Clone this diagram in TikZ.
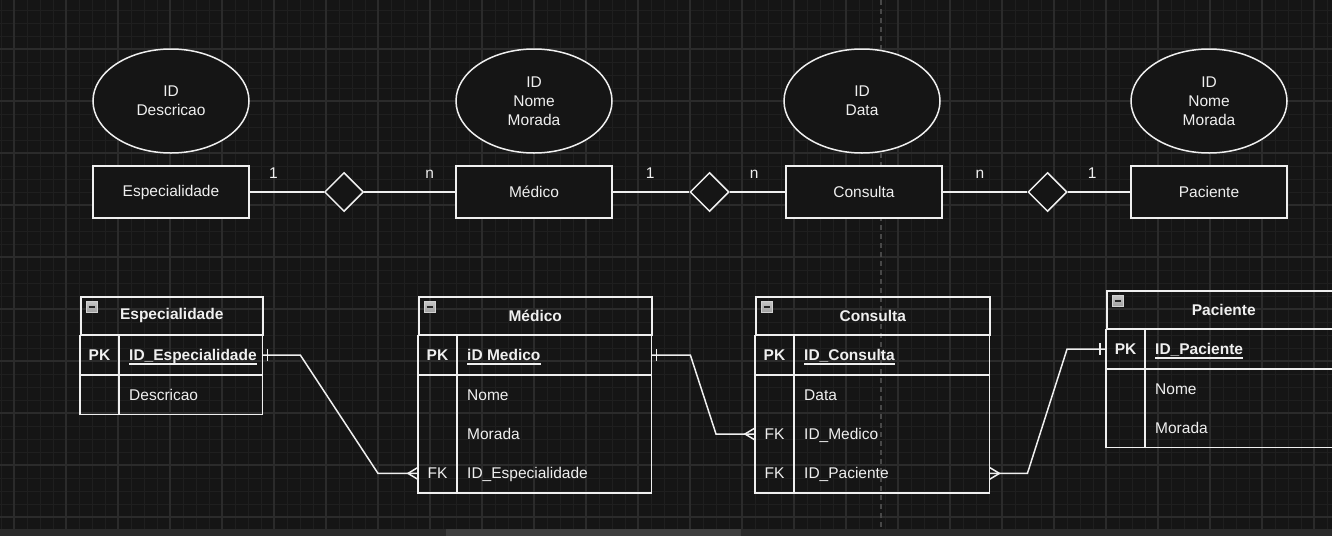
\documentclass[tikz,border=0pt]{standalone}
\usepackage{fontspec}
\setmainfont{Liberation Sans}
\usetikzlibrary{shapes.geometric}

\definecolor{bg}{HTML}{151515}
\definecolor{gridmin}{HTML}{1F1F1F}
\definecolor{gridmaj}{HTML}{2B2B2B}
\definecolor{ink}{HTML}{EFEFEF}
\definecolor{pageline}{HTML}{484848}
\definecolor{barbg}{HTML}{2A2A2A}
\definecolor{barthumb}{HTML}{3E3E3E}

\tikzset{
  txt/.style={font=\fontsize{15.5pt}{19pt}\selectfont, text=ink},
  entity/.style={txt, draw=ink, fill=bg, line width=1.5pt, minimum width=156pt, minimum height=52pt, inner sep=0pt},
  attrib/.style={txt, ellipse, draw=ink, fill=bg, line width=1.5pt, minimum width=156pt, minimum height=104pt, inner sep=0pt, align=center},
  relation/.style={diamond, draw=ink, fill=bg, line width=1.5pt, minimum width=39pt, minimum height=39pt, inner sep=0pt},
  link/.style={draw=ink, line width=1.5pt},
  card/.style={txt, anchor=base, yshift=14pt, inner sep=0pt},
  thead/.style={txt, font=\fontsize{15.5pt}{19pt}\selectfont\bfseries, draw=ink, line width=1.5pt, minimum height=38pt, inner sep=0pt, anchor=north west},
  trow/.style={minimum height=39pt, inner sep=0pt, anchor=north west},
  tkey/.style={txt, inner sep=0pt},
  tfield/.style={txt, inner sep=0pt, anchor=west, text height=14pt, text depth=3pt},
  tline/.style={draw=ink, line width=1.5pt},
  uline/.style={draw=ink, line width=1.4pt},
  minusbox/.style={anchor=north west, minimum width=11pt, minimum height=11pt, inner sep=0pt, draw=gray!35, top color=gray!45, bottom color=gray!75, line width=0.8pt},
  minusbar/.style={draw=black!85, line width=1.5pt},
  minorgrid/.style={draw=gridmin, line width=1pt},
  majorgrid/.style={draw=gridmaj, line width=1.2pt}
}

\begin{document}
\begin{tikzpicture}[x=1pt, y=-1pt]
    \useasboundingbox (0,0) rectangle (1332,536);
    \clip (0,0) rectangle (1332,536);
    \fill[bg] (0,0) rectangle (1332,536);

    % grid
    \foreach \x in {1,14,...,1332} \draw[minorgrid] (\x,0) -- (\x,536);
    \foreach \y in {10,23,...,536} \draw[minorgrid] (0,\y) -- (1332,\y);
    \foreach \x in {14,66,...,1332} \draw[majorgrid] (\x,0) -- (\x,536);
    \foreach \y in {49,101,...,536} \draw[majorgrid] (0,\y) -- (1332,\y);
    \draw[pageline, line width=1.5pt, dash pattern=on 5pt off 4pt] (881,0) -- (881,529);

    % conceptual model
    \node[attrib] (espA) at (171,101) {ID\\Descricao};
    \node[attrib] (medA) at (534,101) {ID\\Nome\\Morada};
    \node[attrib] (conA) at (862,101) {ID\\Data};
    \node[attrib] (pacA) at (1209,101) {ID\\Nome\\Morada};

    \node[entity] (espE) at (171,192) {Especialidade};
    \node[entity] (medE) at (534,192) {Médico};
    \node[entity] (conE) at (864,192) {Consulta};
    \node[entity] (pacE) at (1209,192) {Paciente};

    \node[relation] (rel1) at (344,192) {};
    \node[relation] (rel2) at (709.5,192) {};
    \node[relation] (rel3) at (1047.5,192) {};

    \draw[link] (espE) -- node[card, pos=0.32] {1} (rel1);
    \draw[link] (rel1) -- node[card, pos=0.72] {n} (medE);
    \draw[link] (medE) -- node[card, pos=0.49] {1} (rel2);
    \draw[link] (rel2) -- node[card, pos=0.44] {n} (conE);
    \draw[link] (conE) -- node[card, pos=0.44] {n} (rel3);
    \draw[link] (rel3) -- node[card, pos=0.39] {1} (pacE);

    % table Especialidade
    \node[thead, minimum width=182pt] (espH) at (80,296) {Especialidade};
    \node[trow, minimum width=182pt] (espR1) at (espH.south west) {};
    \node[trow, minimum width=182pt] (espR2) at (espR1.south west) {};
    \draw[tline] (espR1.north west) rectangle (espR2.south east);
    \draw[tline] (espR1.south west) -- (espR1.south east);
    \draw[tline] ([xshift=39pt]espR1.north west) -- ([xshift=39pt]espR2.south west);
    \node[minusbox] (espM) at ([shift={(6pt,-5pt)}]espH.north west) {};
    \draw[minusbar] ([xshift=2.5pt]espM.west) -- ([xshift=-2.5pt]espM.east);
    \node[tkey] (espK1) at ([xshift=19.5pt]espR1.west) {\textbf{PK}};
    \node[tfield] (espF1) at ([xshift=49pt]espR1.west) {\textbf{ID\_Especialidade}};
    \draw[uline] (espF1.south west) -- (espF1.south east);
    \node[tfield] (espF2) at ([xshift=49pt]espR2.west) {Descricao};

    % table Medico
    \node[thead, minimum width=233pt] (medH) at (418,296) {Médico};
    \node[trow, minimum width=233pt] (medR1) at (medH.south west) {};
    \node[trow, minimum width=233pt] (medR2) at (medR1.south west) {};
    \node[trow, minimum width=233pt] (medR3) at (medR2.south west) {};
    \node[trow, minimum width=233pt] (medR4) at (medR3.south west) {};
    \draw[tline] (medR1.north west) rectangle (medR4.south east);
    \draw[tline] (medR1.south west) -- (medR1.south east);
    \draw[tline] ([xshift=39pt]medR1.north west) -- ([xshift=39pt]medR4.south west);
    \node[minusbox] (medM) at ([shift={(6pt,-5pt)}]medH.north west) {};
    \draw[minusbar] ([xshift=2.5pt]medM.west) -- ([xshift=-2.5pt]medM.east);
    \node[tkey] (medK1) at ([xshift=19.5pt]medR1.west) {\textbf{PK}};
    \node[tfield] (medF1) at ([xshift=49pt]medR1.west) {\textbf{iD Medico}};
    \draw[uline] (medF1.south west) -- (medF1.south east);
    \node[tfield] (medF2) at ([xshift=49pt]medR2.west) {Nome};
    \node[tfield] (medF3) at ([xshift=49pt]medR3.west) {Morada};
    \node[tkey] (medK4) at ([xshift=19.5pt]medR4.west) {FK};
    \node[tfield] (medF4) at ([xshift=49pt]medR4.west) {ID\_Especialidade};

    % table Consulta
    \node[thead, minimum width=234pt] (conH) at (755,296) {Consulta};
    \node[trow, minimum width=234pt] (conR1) at (conH.south west) {};
    \node[trow, minimum width=234pt] (conR2) at (conR1.south west) {};
    \node[trow, minimum width=234pt] (conR3) at (conR2.south west) {};
    \node[trow, minimum width=234pt] (conR4) at (conR3.south west) {};
    \draw[tline] (conR1.north west) rectangle (conR4.south east);
    \draw[tline] (conR1.south west) -- (conR1.south east);
    \draw[tline] ([xshift=39pt]conR1.north west) -- ([xshift=39pt]conR4.south west);
    \node[minusbox] (conM) at ([shift={(6pt,-5pt)}]conH.north west) {};
    \draw[minusbar] ([xshift=2.5pt]conM.west) -- ([xshift=-2.5pt]conM.east);
    \node[tkey] (conK1) at ([xshift=19.5pt]conR1.west) {\textbf{PK}};
    \node[tfield] (conF1) at ([xshift=49pt]conR1.west) {\textbf{ID\_Consulta}};
    \draw[uline] (conF1.south west) -- (conF1.south east);
    \node[tfield] (conF2) at ([xshift=49pt]conR2.west) {Data};
    \node[tkey] (conK3) at ([xshift=19.5pt]conR3.west) {FK};
    \node[tfield] (conF3) at ([xshift=49pt]conR3.west) {ID\_Medico};
    \node[tkey] (conK4) at ([xshift=19.5pt]conR4.west) {FK};
    \node[tfield] (conF4) at ([xshift=49pt]conR4.west) {ID\_Paciente};

    % table Paciente
    \node[thead, minimum width=234pt] (pacH) at (1106,290) {Paciente};
    \node[trow, minimum width=234pt] (pacR1) at (pacH.south west) {};
    \node[trow, minimum width=234pt] (pacR2) at (pacR1.south west) {};
    \node[trow, minimum width=234pt] (pacR3) at (pacR2.south west) {};
    \draw[tline] (pacR1.north west) rectangle (pacR3.south east);
    \draw[tline] (pacR1.south west) -- (pacR1.south east);
    \draw[tline] ([xshift=39pt]pacR1.north west) -- ([xshift=39pt]pacR3.south west);
    \node[minusbox] (pacM) at ([shift={(6pt,-5pt)}]pacH.north west) {};
    \draw[minusbar] ([xshift=2.5pt]pacM.west) -- ([xshift=-2.5pt]pacM.east);
    \node[tkey] (pacK1) at ([xshift=19.5pt]pacR1.west) {\textbf{PK}};
    \node[tfield] (pacF1) at ([xshift=49pt]pacR1.west) {\textbf{ID\_Paciente}};
    \draw[uline] (pacF1.south west) -- (pacF1.south east);
    \node[tfield] (pacF2) at ([xshift=49pt]pacR2.west) {Nome};
    \node[tfield] (pacF3) at ([xshift=49pt]pacR3.west) {Morada};

    % relations between tables
    \draw[link] (espR1.east) -- ++(38pt,0pt) -- ([xshift=-40pt]medR4.west) -- (medR4.west);
    \draw[link] ([xshift=5pt,yshift=6pt]espR1.east) -- ([xshift=5pt,yshift=-6pt]espR1.east);
    \draw[link] ([yshift=6pt]medR4.west) -- ([xshift=-10pt]medR4.west) -- ([yshift=-6pt]medR4.west);

    \draw[link] (medR1.east) -- ++(39pt,0pt) -- ([xshift=-39pt]conR3.west) -- (conR3.west);
    \draw[link] ([xshift=5pt,yshift=6pt]medR1.east) -- ([xshift=5pt,yshift=-6pt]medR1.east);
    \draw[link] ([yshift=6pt]conR3.west) -- ([xshift=-10pt]conR3.west) -- ([yshift=-6pt]conR3.west);

    \draw[link] (conR4.east) -- ++(38pt,0pt) -- ([xshift=-39pt]pacR1.west) -- (pacR1.west);
    \draw[link] ([yshift=6pt]conR4.east) -- ([xshift=10pt]conR4.east) -- ([yshift=-6pt]conR4.east);
    \draw[link] ([xshift=-6pt,yshift=6pt]pacR1.west) -- ([xshift=-6pt,yshift=-6pt]pacR1.west);

    % scroll bar
    \fill[barbg] (0,529) rectangle (1332,536);
    \fill[barthumb] (446,529) rectangle (741,536);
\end{tikzpicture}
\end{document}
